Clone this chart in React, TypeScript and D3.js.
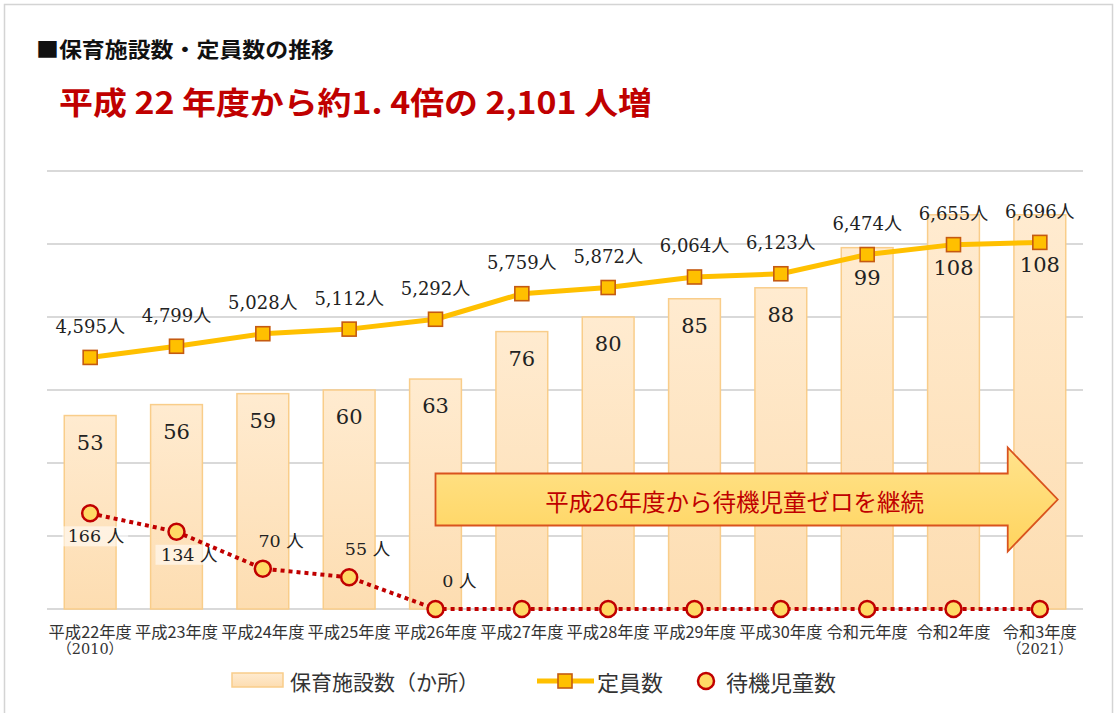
import React from 'react'
import * as d3 from 'd3'

const years = ['平成22年度', '平成23年度', '平成24年度', '平成25年度', '平成26年度', '平成27年度', '平成28年度', '平成29年度', '平成30年度', '令和元年度', '令和2年度', '令和3年度']
const yearNotes = ['（2010）', '', '', '', '', '', '', '', '', '', '', '（2021）']
const facilities = [53, 56, 59, 60, 63, 76, 80, 85, 88, 99, 108, 108]
const capacity = [4595, 4799, 5028, 5112, 5292, 5759, 5872, 6064, 6123, 6474, 6655, 6696]
const waiting = [166, 134, 70, 55, 0, 0, 0, 0, 0, 0, 0, 0]
// only the first five waiting values carry a label; 'b' = below, 'a' = above
const waitingLabelPos = ['b', 'b', 'a', 'a', 'a']

const W = 1118
const H = 713
const left = 47
const right = 1083
const top = 171
const bottom = 609

const serif = '"DejaVu Serif", "Liberation Serif", "Noto Sans CJK JP", serif'
const sans = '"Noto Sans CJK JP", "Noto Sans", sans-serif'

const App = () => {
  const x = d3.scaleBand().domain(years).range([left, right]).paddingInner(0.4).paddingOuter(0.2)
  const yFac = d3.scaleLinear().domain([0, 120]).range([bottom, top])
  const yCap = d3.scaleLinear().domain([0, 8000]).range([bottom, top])
  const yWait = d3.scaleLinear().domain([0, 760]).range([bottom, top])
  const cx = (d: string) => (x(d) as number) + x.bandwidth() / 2

  const capLine = d3.line<number>().x((d, i) => cx(years[i])).y((d) => yCap(d))
  const waitLine = d3.line<number>().x((d, i) => cx(years[i])).y((d) => yWait(d))

  // arrow: from the year waiting hit zero to the end of the last band
  const arrowStart = cx(years[4])
  const arrowTip = (x(years[11]) as number) + x.bandwidth() - 8
  const arrowMid = yFac(30)
  const headLen = 50
  const arrowPath = d3.path()
  arrowPath.moveTo(arrowStart, arrowMid - 26)
  arrowPath.lineTo(arrowTip - headLen, arrowMid - 26)
  arrowPath.lineTo(arrowTip - headLen, arrowMid - 52)
  arrowPath.lineTo(arrowTip, arrowMid)
  arrowPath.lineTo(arrowTip - headLen, arrowMid + 52)
  arrowPath.lineTo(arrowTip - headLen, arrowMid + 26)
  arrowPath.lineTo(arrowStart, arrowMid + 26)
  arrowPath.closePath()

  return (
    <svg width={W} height={H} style={{ position: 'absolute', left: 0, top: 0, background: '#fff' }}>
      <defs>
        <linearGradient id="barFill" x1="0" y1="0" x2="0" y2="1">
          <stop offset="0%" stopColor="#FFEBD0" />
          <stop offset="100%" stopColor="#FDDDB1" />
        </linearGradient>
        <linearGradient id="arrowFill" x1="0" y1="0" x2="0" y2="1">
          <stop offset="0%" stopColor="#FFE38C" />
          <stop offset="100%" stopColor="#FFD45E" />
        </linearGradient>
      </defs>
      <rect x={4.5} y={4.5} width={1108} height={720} fill="#fff" stroke="#d4d4d4" strokeWidth={1.5} />

      <text x={36} y={48} fontFamily={sans} fontSize={21} fontWeight="bold" fill="#111" dominantBaseline="central" textLength={298} lengthAdjust="spacingAndGlyphs">
        ■保育施設数・定員数の推移
      </text>
      <text x={59} y={100} fontFamily={sans} fontSize={31} fontWeight="bold" fill="#C00000" dominantBaseline="central" textLength={593} lengthAdjust="spacingAndGlyphs">
        平成 22 年度から約1. 4倍の 2,101 人増
      </text>

      {/* gridlines */}
      {yFac.ticks(6).map((t) => (
        <line key={t} x1={left} x2={right} y1={yFac(t)} y2={yFac(t)} stroke="#D9D9D9" strokeWidth={1.8} />
      ))}

      {/* facility bars */}
      {facilities.map((v, i) => (
        <rect
          key={years[i]}
          x={x(years[i])}
          y={yFac(v)}
          width={x.bandwidth()}
          height={bottom - yFac(v)}
          fill="url(#barFill)"
          stroke="#F9CD8A"
          strokeWidth={1.5}
        />
      ))}

      {/* arrow annotation */}
      <path d={arrowPath.toString()} fill="url(#arrowFill)" stroke="#D9531E" strokeWidth={1.8} />
      <text x={(arrowStart + arrowTip) / 2 - 12} y={arrowMid + 1} fontFamily={sans} fontSize={23.5} fill="#C00000" textAnchor="middle" dominantBaseline="central">
        平成26年度から待機児童ゼロを継続
      </text>

      {/* capacity line */}
      <path d={capLine(capacity) ?? ''} fill="none" stroke="#FFC000" strokeWidth={5} strokeLinejoin="round" />

      {/* bar labels sit inside the bar top, pushed under the capacity marker when they would meet */}
      {facilities.map((v, i) => (
        <text
          key={years[i]}
          x={cx(years[i])}
          y={Math.max(yFac(v) + 27, yCap(capacity[i]) + 23)}
          fontFamily={serif}
          fontSize={21}
          fill="#222"
          textAnchor="middle"
          dominantBaseline="central"
        >
          {v}
        </text>
      ))}

      {capacity.map((v, i) => (
        <rect key={years[i]} x={cx(years[i]) - 7} y={yCap(v) - 7} width={14} height={14} fill="#FFC000" stroke="#C55A11" strokeWidth={1.6} />
      ))}
      {capacity.map((v, i) => (
        <text key={years[i]} x={cx(years[i])} y={yCap(v) - 31} fontFamily={serif} fontSize={18} fill="#222" textAnchor="middle" dominantBaseline="central">
          {d3.format(',')(v)}人
        </text>
      ))}

      {/* waiting children */}
      {waitingLabelPos.map((p, i) => {
        const below = p === 'b'
        const ly = yWait(waiting[i]) + (below ? 23 : -28)
        const rx = cx(years[i]) + (i === 0 ? 34 : 41)
        return (
          <g key={years[i]}>
            {below && <rect x={rx - 62} y={ly - 10} width={66} height={20} fill="#fff" opacity={0.55} />}
            <text x={rx} y={ly} fontFamily={serif} fontSize={17.5} fill="#222" textAnchor="end" dominantBaseline="central">
              {waiting[i]} 人
            </text>
          </g>
        )
      })}
      <path d={waitLine(waiting) ?? ''} fill="none" stroke="#C00000" strokeWidth={4} strokeDasharray="4 4" />
      {waiting.map((v, i) => (
        <circle key={years[i]} cx={cx(years[i])} cy={yWait(v)} r={8} fill="#FFD966" stroke="#C00000" strokeWidth={2.5} />
      ))}

      {/* x axis labels */}
      {years.map((d, i) => (
        <g key={d} fill="#333" textAnchor="middle">
          <text x={cx(d)} y={631} dominantBaseline="central" fontFamily={sans} fontSize={16.3}>{d}</text>
          {yearNotes[i] && (
            <text x={cx(d)} y={649} dominantBaseline="central" fontFamily={serif} fontSize={14.5}>
              {yearNotes[i]}
            </text>
          )}
        </g>
      ))}

      {/* legend */}
      <g fontFamily={sans} fontSize={21} fill="#333" dominantBaseline="central">
        <rect x={232} y={673} width={51} height={14} fill="url(#barFill)" stroke="#F9CD8A" strokeWidth={1.5} />
        <text x={290} y={681}>保育施設数（か所）</text>
        <line x1={537} x2={594} y1={681} y2={681} stroke="#FFC000" strokeWidth={5} />
        <rect x={558} y={674} width={14} height={14} fill="#FFC000" stroke="#C55A11" strokeWidth={1.6} />
        <text x={597} y={681} fontSize={22}>定員数</text>
        <circle cx={706} cy={681} r={8} fill="#FFD966" stroke="#C00000" strokeWidth={2.5} />
        <text x={726} y={681} fontSize={22}>待機児童数</text>
      </g>
    </svg>
  )
}

export default App
